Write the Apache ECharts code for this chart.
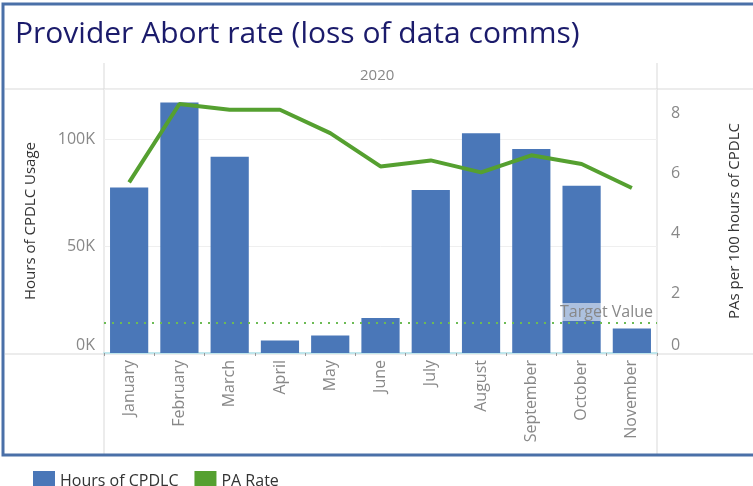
<!DOCTYPE html>
<html>
<head>
<meta charset="utf-8">
<script src="https://cdn.jsdelivr.net/npm/echarts@6/dist/echarts.min.js"></script>
<style>
  html, body { margin: 0; padding: 0; background: #fff; }
  #chart { width: 753px; height: 486px; }
</style>
</head>
<body>
<div id="chart"></div>
<script>
// data
const months = ['January', 'February', 'March', 'April', 'May', 'June', 'July',
  'August', 'September', 'October', 'November']
const hoursCpdlc = [77500, 117400, 91900, 5800, 8200, 16400, 76400, 103000, 95600, 78400, 11500]
const paRate = [5.69, 8.30, 8.11, 8.11, 7.33, 6.22, 6.42, 6.02, 6.59, 6.30, 5.50]
const targetValue = 1
const yearLabel = '2020'

const font = '"Open Sans", "Noto Sans", sans-serif'
const blue = '#4a77b8'
const green = '#55a030'
const grey = '#888'
const lineGrey = '#d9d9d9'

const chart = echarts.init(document.getElementById('chart'))

chart.setOption({
  animation: false,
  textStyle: { fontFamily: font },
  title: {
    text: 'Provider Abort rate (loss of data comms)',
    left: 10, top: 14,
    textStyle: { fontFamily: font, fontSize: 30, fontWeight: 'normal', color: '#1b1b6b' }
  },
  legend: {
    left: 28, top: 466,
    icon: 'rect', itemWidth: 22, itemHeight: 20, itemGap: 16,
    textStyle: { fontFamily: font, fontSize: 16, color: '#333' },
    data: ['Hours of CPDLC', 'PA Rate']
  },
  grid: { left: 104, right: 96, top: 89, bottom: 133 },
  xAxis: {
    type: 'category',
    data: months,
    axisLine: { show: true, lineStyle: { color: '#bfe6ec', width: 2 } },
    axisTick: { show: true, alignWithLabel: false, length: 3, lineStyle: { color: '#999' } },
    axisLabel: { rotate: 90, margin: 7, color: grey, fontSize: 16, fontFamily: font }
  },
  yAxis: [
    {
      type: 'value', min: 0, max: 123700, interval: 50000,
      name: 'Hours of CPDLC Usage', nameLocation: 'middle', nameGap: 66, nameRotate: 90,
      nameTextStyle: { fontFamily: font, fontSize: 15, color: '#333' },
      axisLine: { show: false }, axisTick: { show: false },
      axisLabel: { margin: 9, color: grey, fontSize: 16, fontFamily: font, showMaxLabel: false,
        verticalAlignMinLabel: 'bottom',
        formatter: v => (v / 1000) + 'K' },
      splitLine: { show: true, lineStyle: { color: '#efefef' } }
    },
    {
      type: 'value', min: 0, max: 8.8, interval: 2,
      name: 'PAs per 100 hours of CPDLC', nameLocation: 'middle', nameGap: 70, nameRotate: 90,
      nameTextStyle: { fontFamily: font, fontSize: 15, color: '#333' },
      axisLine: { show: false }, axisTick: { show: false },
      axisLabel: { margin: 14, color: grey, fontSize: 16, fontFamily: font, showMaxLabel: false,
        verticalAlignMinLabel: 'bottom' },
      splitLine: { show: false }
    }
  ],
  graphic: [
    // frame & header band
    { type: 'line', shape: { x1: 5, y1: 89, x2: 753, y2: 89 }, style: { stroke: lineGrey, lineWidth: 1 }, silent: true },
    { type: 'line', shape: { x1: 5, y1: 354, x2: 753, y2: 354 }, style: { stroke: lineGrey, lineWidth: 1 }, silent: true },
    { type: 'line', shape: { x1: 104, y1: 63, x2: 104, y2: 455 }, style: { stroke: lineGrey, lineWidth: 1 }, silent: true },
    { type: 'line', shape: { x1: 657, y1: 63, x2: 657, y2: 455 }, style: { stroke: lineGrey, lineWidth: 1 }, silent: true },
    { type: 'rect', shape: { x: 3, y: 4, width: 760, height: 451 }, style: { fill: 'none', stroke: '#4a70a8', lineWidth: 3 }, silent: true },
    { type: 'text', left: 360, top: 68, style: { text: yearLabel, font: '15px ' + font, fill: grey } }
  ],
  series: [
    {
      name: 'Hours of CPDLC',
      type: 'bar',
      yAxisIndex: 0,
      data: hoursCpdlc,
      barWidth: '76%',
      itemStyle: { color: blue },
      z: 2
    },
    {
      name: 'PA Rate',
      type: 'line',
      yAxisIndex: 1,
      data: paRate,
      symbol: 'none',
      lineStyle: { color: green, width: 4 },
      itemStyle: { color: green },
      z: 3,
      markLine: {
        silent: true,
        symbol: 'none',
        data: [{ yAxis: targetValue }],
        lineStyle: { color: '#6dbb55', type: [2, 6], width: 2 },
        label: {
          position: 'insideEndTop',
          formatter: 'Target Value',
          color: grey, fontSize: 16, fontFamily: font,
          backgroundColor: 'rgba(255,255,255,0.55)',
          padding: [1, 2], distance: 2
        }
      }
    }
  ]
})
</script>
</body>
</html>
